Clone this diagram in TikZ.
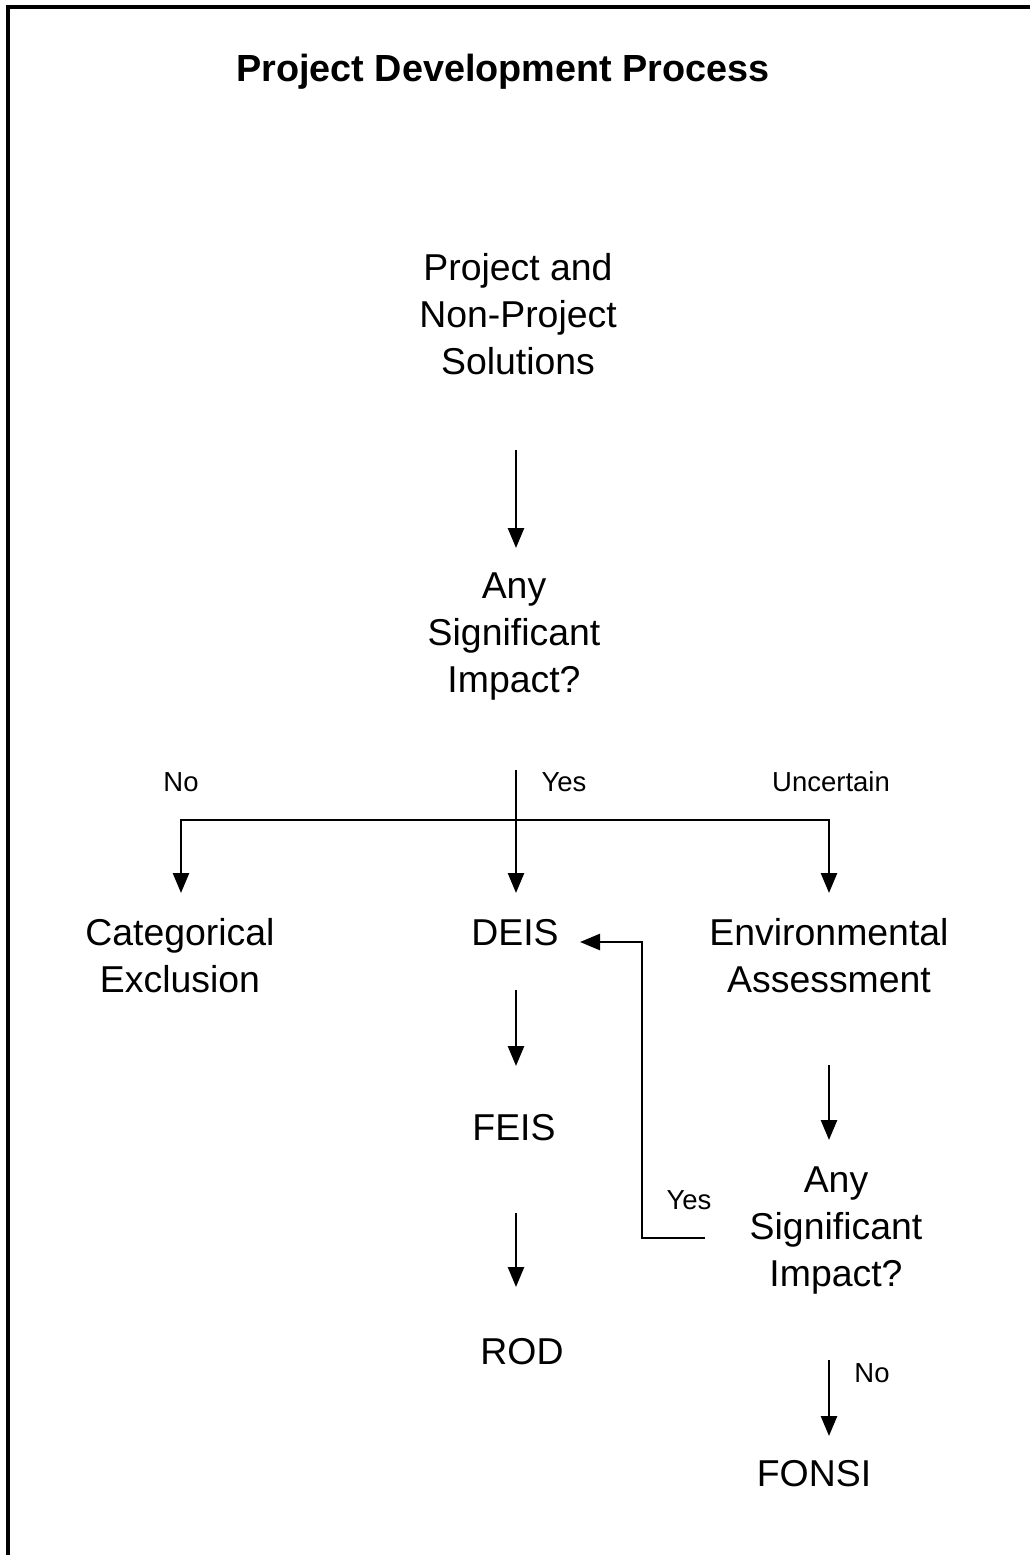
\documentclass[tikz,border=0pt]{standalone}
\usepackage{fontspec}
\setmainfont{Liberation Sans}
\usepackage{tikz}
\usetikzlibrary{arrows.meta,positioning,calc}

\begin{document}
\begin{tikzpicture}[x=1pt,y=-1pt,
	box/.style={align=center,inner sep=0pt,font=\fontsize{37.4}{47}\selectfont},
	lbl/.style={inner sep=0pt,font=\fontsize{27.5}{33}\selectfont},
	link/.style={line width=2.6pt},
	arr/.style={link,-{Triangle[length=20pt,width=16pt]}}]
	\useasboundingbox (0,0) rectangle (1030,1555);
	\draw[line width=3.2pt] (8,1555) -- (8,7) -- (1030,7);

	\node[box,font=\fontsize{37.8}{47}\selectfont\bfseries] (title) at (503,72) {Project Development Process};

	\node[box] (sol) at (518,314) {Project and\\Non-Project\\Solutions};
	\node[box] (any1) at (514,637) {Any\\Significant\\Impact?};
	\node[box] (cat) at (180,956) {Categorical\\Exclusion};
	\node[box] (deis) at (515,933) {DEIS};
	\node[box] (ea) at (829,956) {Environmental\\Assessment};
	\node[box] (feis) at (514,1128) {FEIS};
	\node[box] (rod) at (522,1352) {ROD};
	\node[box] (any2) at (836,1230) {Any\\Significant\\Impact?};
	\node[box] (fonsi) at (814,1474) {FONSI};

	\node[lbl] (no1) at (181,782) {No};
	\node[lbl] (yes1) at (564,782) {Yes};
	\node[lbl] (unc) at (831,782) {Uncertain};
	\node[lbl] (yes2) at (689,1200) {Yes};
	\node[lbl] (no2) at (872,1373) {No};

	\draw[arr] ($(sol)+(-2,136)$) -- ($(any1)+(2,-89)$);
	\draw[arr] ($(any1)+(2,133)$) -- ($(deis)+(1,-40)$);
	\coordinate (split) at ($(any1)+(2,183)$);
	\draw[arr] (split) -| ($(cat)+(1,-63)$);
	\draw[arr] (split) -| ($(ea)+(0,-63)$);

	\draw[arr] ($(deis)+(1,57)$) -- ($(feis)+(2,-62)$);
	\draw[arr] ($(feis)+(2,85)$) -- ($(rod)+(-6,-65)$);
	\draw[arr] ($(ea)+(0,109)$) -- ($(any2)+(-7,-90)$);
	\draw[arr] ($(any2)+(-7,130)$) -- ($(fonsi)+(15,-38)$);
	\draw[arr] ($(any2)+(-131,8)$) -| ($(deis)+(127,9)$) -- ($(deis)+(65,9)$);
\end{tikzpicture}
\end{document}
